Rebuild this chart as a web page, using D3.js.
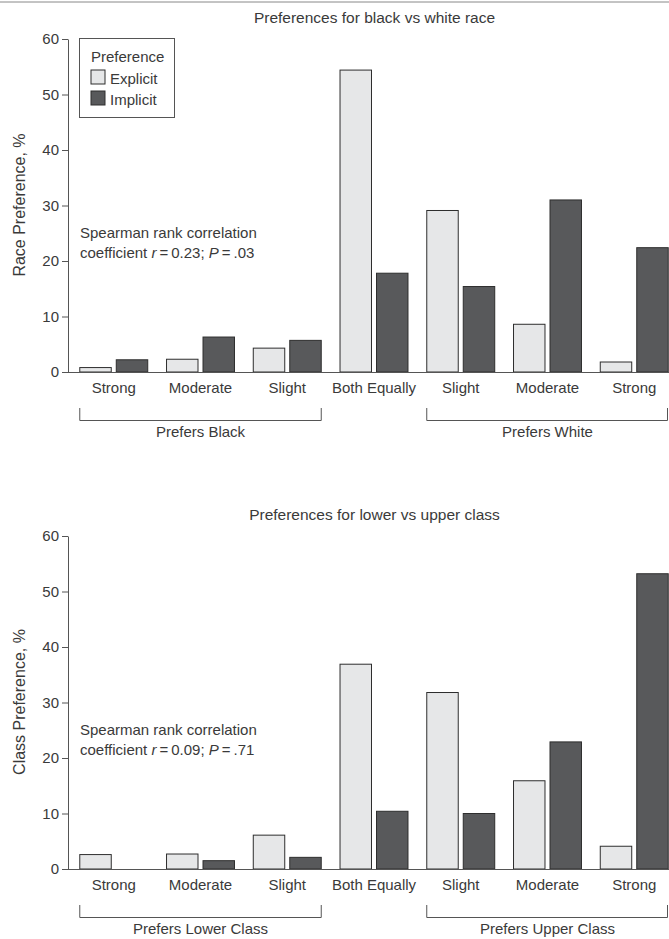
<!DOCTYPE html>
<html>
<head>
<meta charset="utf-8">
<script src="https://cdn.jsdelivr.net/npm/d3@7"></script>
<style>
    body { margin: 0; background: #fff; }
    svg { display: block; font-family: "Liberation Sans", Arial, sans-serif; }
</style>
</head>
<body>
<div id="chart"></div>
<script>
const categories = ['Strong', 'Moderate', 'Slight', 'Both Equally', 'Slight ', 'Moderate ', 'Strong '];
const series = ['Explicit', 'Implicit'];
const yTicks = [0, 10, 20, 30, 40, 50, 60];

const raceExplicit = [0.8, 2.3, 4.3, 54.4, 29.1, 8.6, 1.8];
const raceImplicit = [2.2, 6.3, 5.7, 17.8, 15.4, 31.0, 22.4];

const classExplicit = [2.6, 2.7, 6.1, 36.9, 31.8, 15.9, 4.1];
const classImplicit = [0, 1.5, 2.1, 10.4, 10.0, 22.9, 53.2];

const width = 669, height = 939;
const colors = { Explicit: '#e6e7e8', Implicit: '#58595b' };
const textColor = '#3a3a3a';
const lineColor = '#555';
const fs = 15;

const svg = d3.select('#chart').append('svg')
    .attr('width', width)
    .attr('height', height)
    .attr('viewBox', `0 0 ${width} ${height}`);

// thin rule across the top
svg.append('line')
    .attr('x1', 0).attr('x2', width)
    .attr('y1', 2).attr('y2', 2)
    .attr('stroke', '#888').attr('stroke-width', 1);

const axisX = 68;

const x0 = d3.scaleBand()
    .domain(categories)
    .range([axisX, 680])
    .paddingInner(0.205)
    .paddingOuter(0.13);

const x1 = d3.scaleBand()
    .domain(series)
    .range([0, x0.bandwidth()])
    .paddingInner(0.11);

function drawPanel(opts) {
    const top = opts.top;
    const g = svg.append('g');

    const y = d3.scaleLinear()
        .domain([0, 60])
        .range([top + 333, top]);
    const base = y(0);

    // title
    g.append('text')
        .attr('x', 374.5)
        .attr('y', top - 16.5)
        .attr('text-anchor', 'middle')
        .attr('font-size', 15.5)
        .attr('fill', textColor)
        .text(opts.title);

    // y label
    g.append('text')
        .attr('transform', `translate(25, ${top + 166}) rotate(-90)`)
        .attr('text-anchor', 'middle')
        .attr('font-size', 16)
        .attr('fill', textColor)
        .text(opts.yLabel);

    // bars
    const rows = categories.map((c, i) => ({
        cat: c,
        values: [
            { key: 'Explicit', value: opts.explicit[i] },
            { key: 'Implicit', value: opts.implicit[i] }
        ]
    }));

    const groups = g.selectAll('.bar-group')
        .data(rows)
        .enter()
        .append('g')
        .classed('bar-group', true)
        .attr('transform', d => `translate(${x0(d.cat)},0)`);

    groups.selectAll('.bar')
        .data(d => d.values.filter(v => v.value > 0))
        .enter()
        .append('rect')
        .classed('bar', true)
        .attr('x', d => x1(d.key) + 0.5)
        .attr('y', d => y(d.value))
        .attr('width', x1.bandwidth() - 1)
        .attr('height', d => base - y(d.value))
        .attr('fill', d => colors[d.key])
        .attr('stroke', '#2e2e2e')
        .attr('stroke-width', 1);

    // y axis
    const yAxis = d3.axisLeft(y)
        .tickValues(yTicks)
        .tickSize(6)
        .tickPadding(3)
        .tickSizeOuter(0);

    const ya = g.append('g')
        .attr('transform', `translate(${axisX},0)`)
        .call(yAxis);
    ya.select('.domain').attr('stroke', lineColor);
    ya.selectAll('.tick line').attr('stroke', lineColor);
    ya.selectAll('.tick text')
        .attr('font-size', fs)
        .attr('fill', textColor)
        .attr('font-family', '"Liberation Sans", Arial, sans-serif');

    // x axis
    const xAxis = d3.axisBottom(x0)
        .tickSize(0)
        .tickPadding(10)
        .tickFormat(d => d.trim());

    const xa = g.append('g')
        .attr('transform', `translate(0,${base})`)
        .call(xAxis);
    xa.select('.domain')
        .attr('d', `M${axisX},0.5H${width}`)
        .attr('stroke', lineColor);
    xa.selectAll('.tick text')
        .attr('font-size', fs)
        .attr('fill', textColor)
        .attr('font-family', '"Liberation Sans", Arial, sans-serif');

    // brackets under the groups
    const brackets = [
        { from: categories[0], to: categories[2], label: opts.leftLabel },
        { from: categories[4], to: categories[6], label: opts.rightLabel }
    ];
    brackets.forEach(b => {
        const xa0 = x0(b.from);
        const xa1 = Math.min(x0(b.to) + x0.bandwidth(), width - 1);
        const bTop = base + 36, bBot = base + 48.5;
        g.append('path')
            .attr('d', `M${xa0 + 0.5},${bTop}V${bBot}H${xa1 - 0.5}V${bTop}`)
            .attr('fill', 'none')
            .attr('stroke', lineColor)
            .attr('stroke-width', 1);
        g.append('text')
            .attr('x', (x0(b.from) + x0(b.to) + x0.bandwidth()) / 2)
            .attr('y', base + 64.5)
            .attr('text-anchor', 'middle')
            .attr('font-size', fs)
            .attr('fill', textColor)
            .text(b.label);
    });

    // correlation note
    const note = g.append('text')
        .attr('font-size', fs)
        .attr('fill', textColor);
    note.append('tspan')
        .attr('x', 80).attr('y', top + 199)
        .text('Spearman rank correlation');
    const l2 = note.append('tspan').attr('x', 80).attr('y', top + 219);
    l2.append('tspan').text('coefficient ');
    l2.append('tspan').attr('font-style', 'italic').text('r');
    l2.append('tspan').text('\u2009=\u2009' + opts.r + '; ');
    l2.append('tspan').attr('font-style', 'italic').text('P');
    l2.append('tspan').text('\u2009=\u2009' + opts.p);

    return y;
}

drawPanel({
    top: 39,
    title: 'Preferences for black vs white race',
    yLabel: 'Race Preference, %',
    explicit: raceExplicit,
    implicit: raceImplicit,
    leftLabel: 'Prefers Black',
    rightLabel: 'Prefers White',
    r: '0.23',
    p: '.03'
});

drawPanel({
    top: 536,
    title: 'Preferences for lower vs upper class',
    yLabel: 'Class Preference, %',
    explicit: classExplicit,
    implicit: classImplicit,
    leftLabel: 'Prefers Lower Class',
    rightLabel: 'Prefers Upper Class',
    r: '0.09',
    p: '.71'
});

// legend (top panel only)
const legend = svg.append('g').attr('transform', 'translate(79.5,38.5)');
legend.append('rect')
    .attr('width', 95).attr('height', 79)
    .attr('fill', '#fff')
    .attr('stroke', lineColor);
legend.append('text')
    .attr('x', 11.5).attr('y', 23.5)
    .attr('font-size', fs)
    .attr('fill', textColor)
    .text('Preference');
series.forEach((s, i) => {
    legend.append('rect')
        .attr('x', 11.5).attr('y', 31.5 + i * 21)
        .attr('width', 14).attr('height', 14)
        .attr('fill', colors[s])
        .attr('stroke', '#2e2e2e');
    legend.append('text')
        .attr('x', 30.5).attr('y', 45 + i * 21)
        .attr('font-size', fs)
        .attr('fill', textColor)
        .text(s);
});
</script>
</body>
</html>
